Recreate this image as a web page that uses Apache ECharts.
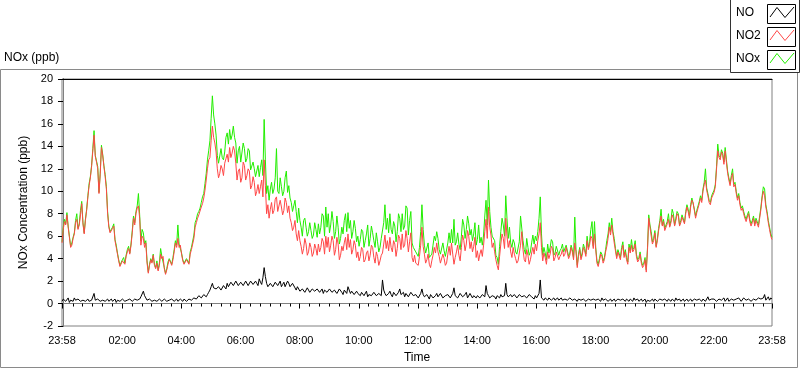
<!DOCTYPE html>
<html>
<head>
<meta charset="utf-8">
<script src="https://cdn.jsdelivr.net/npm/echarts@6/dist/echarts.min.js"></script>
<style>
html,body{margin:0;padding:0;background:#fff;}
#chart{width:800px;height:369px;}
</style>
</head>
<body>
<div id="chart"></div>
<script>
// Sampling: minutes since midnight, first sample at 23:58 (-2), every 2.5 minutes
const sampleStart = -2;
const sampleStep = 2.5;

// NO2 (ppb) - one row per hour
const no2 = [
  5.4,6.6,7.3,7.0,7.9,6.8,5.9,5.0,5.2,5.8,6.2,7.2,7.5,6.6,7.0,7.9,8.9,7.1,6.2,7.4,8.3,9.5,10.5,11.2,
  12.2,13.6,15.0,13.1,12.6,12.0,9.8,11.5,13.9,13.2,12.2,11.3,10.2,8.0,6.8,6.3,6.2,6.7,6.9,5.6,5.0,4.4,3.8,3.3,
  3.4,3.8,3.9,3.5,4.2,4.6,4.9,4.4,5.2,6.3,7.6,7.0,8.0,8.5,8.7,7.6,5.2,6.0,5.8,5.0,5.4,3.6,2.7,3.4,
  3.9,3.6,4.3,3.4,3.1,3.6,2.9,3.4,4.4,4.0,4.2,3.1,2.6,3.0,3.5,3.9,3.7,3.4,3.9,4.6,5.4,5.0,5.8,5.0,
  5.2,4.4,3.8,3.5,3.4,3.9,3.8,3.5,4.4,4.8,4.9,5.8,6.8,7.2,7.6,7.9,8.0,8.6,8.9,9.4,10.1,11.0,12.0,12.8,
  13.0,14.5,15.8,14.8,14.3,13.5,12.0,11.2,11.6,12.3,12.0,11.4,12.5,12.9,13.3,12.6,13.9,13.0,13.4,14.0,13.6,12.5,11.0,11.8,
  12.0,10.8,11.2,12.6,12.3,11.0,11.4,12.0,11.8,10.2,10.5,11.3,10.8,9.6,10.0,10.6,9.8,10.4,11.0,9.5,12.8,10.5,8.0,8.8,
  7.6,8.4,9.0,8.0,8.3,9.3,9.5,8.2,8.1,9.2,8.6,7.9,8.3,9.4,9.0,8.1,8.7,7.6,7.2,6.5,6.8,7.4,6.2,5.6,
  6.5,5.6,5.1,4.4,4.9,5.8,5.3,4.3,4.6,5.4,5.0,4.2,4.5,5.3,4.9,4.3,5.3,4.6,5.0,5.8,5.5,4.4,6.0,5.0,
  5.9,4.6,5.2,6.0,5.6,4.3,4.8,5.9,5.3,3.9,4.3,5.1,4.7,5.4,5.9,4.8,6.2,5.0,5.7,4.4,4.8,5.6,5.2,4.1,
  4.6,3.8,4.2,5.0,4.8,3.7,3.9,4.5,4.7,3.8,4.3,5.2,5.0,4.1,3.6,4.6,4.2,3.4,3.8,4.3,4.5,5.3,6.1,4.9,
  5.6,4.7,5.9,5.0,4.6,5.6,5.3,4.2,4.9,6.1,5.8,4.8,6.2,5.0,5.2,6.5,5.8,4.6,5.5,6.3,4.1,3.7,4.3,3.6,
  3.7,3.4,4.2,5.2,6.8,5.1,4.4,3.6,3.9,4.4,3.5,3.2,3.8,4.3,5.0,4.5,5.4,4.6,4.2,3.6,3.7,4.4,4.0,3.4,
  3.6,4.4,5.1,4.3,5.4,4.4,3.5,4.1,4.6,5.2,4.3,3.8,5.0,6.1,5.6,4.7,5.3,6.5,6.0,4.9,5.5,4.6,5.1,5.9,
  4.1,4.7,3.8,4.4,4.8,4.2,5.2,6.4,7.5,5.8,8.6,6.8,6.1,5.0,5.4,4.6,3.9,3.4,3.0,4.2,5.3,6.2,5.8,4.9,
  7.6,6.0,5.0,5.6,4.6,4.1,5.0,4.4,4.0,3.6,3.8,4.5,5.2,6.4,4.8,3.9,3.7,4.8,4.3,3.5,3.9,4.5,5.0,4.4,
  5.3,4.7,5.6,6.2,7.2,5.0,3.8,4.5,4.1,3.5,4.6,4.0,4.4,5.1,4.9,3.8,4.1,4.6,4.7,3.9,4.2,4.4,4.8,4.2,
  4.4,5.0,4.9,4.0,4.3,5.0,4.6,3.9,5.4,4.6,3.2,4.2,4.8,3.9,4.3,5.0,4.7,4.2,5.6,4.8,5.2,6.0,5.8,4.9,
  6.2,4.8,3.6,3.3,3.8,4.4,4.2,3.6,3.9,4.6,5.1,5.8,6.8,6.1,7.0,6.2,5.4,4.7,4.0,4.6,4.5,3.9,4.7,5.2,
  4.1,4.6,3.9,3.5,5.0,4.5,5.2,4.6,4.8,5.3,4.2,3.7,3.9,4.4,3.6,3.2,3.4,3.9,2.8,4.8,7.6,6.8,6.0,5.3,
  5.6,6.3,5.0,5.6,6.5,7.2,7.8,6.9,7.3,6.5,6.4,7.1,7.5,6.8,7.2,7.9,7.6,6.9,7.4,8.0,7.8,6.9,7.2,7.7,
  7.6,7.1,8.0,8.6,8.2,7.6,8.6,9.2,9.0,8.3,7.6,8.1,8.5,8.9,9.4,9.0,10.0,10.6,11.0,10.1,9.6,9.0,8.8,9.4,
  9.4,9.9,10.4,12.0,13.6,13.0,12.8,13.5,13.2,12.4,13.6,12.6,11.6,11.0,10.5,11.2,11.6,10.4,10.6,9.8,9.2,9.6,8.8,8.3,
  8.5,8.0,7.6,7.3,7.7,8.0,7.3,6.9,7.2,7.6,6.9,7.4,7.1,6.8,7.6,8.4,9.4,10.0,9.6,8.6,8.0,7.2,6.6,6.0,5.7
];

// NOx (ppb)
const nox = [
  5.5,6.8,7.5,7.1,8.1,6.9,6.0,5.1,5.4,5.9,6.3,7.4,8.0,6.7,7.1,8.3,9.1,7.2,6.3,7.5,8.4,9.6,10.7,11.3,
  12.3,13.8,15.4,13.2,12.7,12.2,9.9,11.6,14.1,13.3,12.3,11.5,10.4,8.2,6.9,6.4,6.3,6.8,7.1,5.7,5.2,4.5,3.9,3.4,
  3.5,3.9,4.1,3.6,4.3,4.8,5.1,4.5,5.3,6.5,7.8,7.2,8.2,8.7,9.8,7.9,5.6,6.6,6.3,5.3,5.6,3.8,2.8,3.5,
  4.0,3.7,4.4,3.5,3.2,3.8,3.0,3.6,4.9,4.2,4.3,3.2,2.7,3.1,3.7,4.0,3.9,3.5,4.1,4.8,5.6,5.2,7.0,5.3,
  5.4,4.5,3.9,3.6,3.5,4.0,4.0,3.6,4.6,5.0,5.1,6.1,7.2,7.5,8.0,8.2,8.5,9.0,9.5,9.8,10.7,11.6,12.8,13.6,
  14.5,16.5,18.5,16.8,16.0,15.0,13.2,12.5,12.5,13.8,13.0,12.8,13.5,14.8,15.2,14.2,15.5,14.6,15.0,15.8,14.8,14.3,12.5,13.6,
  14.0,12.6,12.6,14.3,13.8,12.6,12.9,13.8,13.6,11.9,11.8,12.6,12.0,11.3,11.4,12.3,11.3,12.1,12.8,11.4,16.4,12.8,9.8,10.5,
  9.2,10.2,10.8,9.8,10.2,11.2,13.8,10.0,9.8,11.2,10.4,9.6,10.0,11.2,11.8,9.9,10.5,9.4,9.0,8.2,8.7,9.2,8.2,7.2,
  8.5,7.4,6.8,6.0,7.4,7.6,6.8,6.0,6.4,7.2,6.5,5.8,6.1,7.2,6.6,5.9,7.1,6.2,6.8,8.0,7.8,6.0,8.6,6.8,
  8.0,6.3,7.0,8.2,7.3,5.8,6.4,7.8,6.8,5.3,5.8,6.8,6.2,7.4,8.0,6.4,8.1,6.7,7.4,5.8,6.4,7.4,6.7,5.5,
  6.0,5.1,5.7,6.6,6.4,5.0,5.6,6.2,7.0,5.1,5.8,6.9,6.3,5.6,5.0,6.3,5.5,4.6,5.0,5.8,5.7,7.2,8.8,6.6,
  7.6,6.3,8.0,6.6,6.2,7.3,6.9,5.5,6.4,8.0,7.6,6.4,8.0,6.6,6.9,8.7,8.5,6.1,7.4,8.2,5.4,5.0,5.0,4.6,
  4.6,4.2,5.0,6.4,8.8,6.6,5.2,4.5,4.6,5.4,4.1,4.0,4.4,5.2,6.0,5.6,6.4,5.8,4.8,4.4,4.3,5.4,4.7,4.2,
  4.2,5.4,6.3,5.4,6.6,5.4,7.5,5.2,5.5,6.3,5.3,4.8,6.0,7.5,7.0,5.8,6.6,7.8,7.1,6.1,6.6,5.6,6.2,7.2,
  5.2,5.7,7.0,5.4,5.9,5.2,6.1,7.8,9.2,7.0,11.0,8.2,6.8,6.0,6.0,5.6,4.3,4.1,3.5,5.1,6.4,7.6,7.0,6.0,
  9.6,7.6,5.8,6.8,5.4,5.0,5.7,5.4,4.6,4.4,4.4,5.5,7.8,7.8,5.6,4.8,4.4,5.8,5.0,4.3,4.6,5.4,6.1,5.3,
  6.0,5.6,6.4,7.6,9.5,6.2,4.3,5.0,4.5,3.9,5.3,4.5,5.0,5.7,5.5,4.3,4.5,5.1,5.1,4.3,4.7,4.9,5.3,4.6,
  4.6,5.2,5.1,4.2,4.5,5.2,4.8,4.1,7.7,4.8,3.4,4.4,5.0,4.1,4.5,5.3,4.9,4.4,6.0,5.0,5.5,6.6,7.3,5.1,
  7.3,5.0,3.8,3.5,4.0,4.6,4.4,3.8,4.1,4.8,5.6,6.2,7.2,6.4,7.6,6.4,5.8,4.9,4.2,4.8,4.8,4.1,5.0,5.5,
  4.3,4.8,4.1,3.7,5.3,4.7,5.7,4.8,5.0,5.6,4.4,3.9,4.1,4.6,3.8,3.4,3.6,4.1,3.0,5.0,7.9,7.0,6.4,5.5,
  5.8,6.5,5.1,5.8,6.7,7.4,8.4,7.0,7.5,6.7,6.6,7.3,8.0,6.9,7.4,8.4,8.0,7.0,7.6,8.2,8.0,7.0,7.4,7.9,
  7.8,7.2,8.2,8.8,8.4,7.8,8.8,9.4,9.3,8.4,7.8,8.3,8.7,9.1,9.6,9.2,10.2,10.8,12.0,10.3,9.8,9.2,9.0,9.6,
  9.6,10.1,10.6,12.2,14.2,13.2,13.0,13.7,13.4,12.6,13.9,12.8,11.8,11.2,10.7,11.4,12.0,10.6,10.8,10.0,9.4,9.8,9.0,8.5,
  8.7,8.2,7.8,7.5,7.9,8.2,7.5,7.1,7.4,7.8,7.1,7.6,7.3,7.0,7.8,8.6,9.6,10.4,10.2,8.8,8.2,7.4,6.8,6.2,5.9
];

// NO (ppb)
const no = [
  0.2,0.4,0.4,0.2,0.3,0.5,0.1,0.3,0.3,0.2,0.5,0.3,0.2,0.4,0.3,0.2,0.1,0.3,0.4,0.2,0.3,0.4,0.2,0.3,
  0.3,0.4,0.9,0.3,0.2,0.4,0.3,0.2,0.1,0.3,0.4,0.2,0.3,0.4,0.2,0.3,0.4,0.2,0.3,0.4,0.1,0.3,0.3,0.2,
  0.2,0.4,0.4,0.2,0.3,0.3,0.2,0.4,0.4,0.2,0.3,0.4,0.5,0.3,0.3,0.4,0.6,0.5,1.1,0.7,0.5,0.3,0.2,0.4,
  0.3,0.2,0.1,0.3,0.4,0.2,0.2,0.4,0.3,0.2,0.2,0.4,0.4,0.2,0.1,0.3,0.3,0.4,0.5,0.2,0.3,0.4,0.2,0.3,
  0.4,0.3,0.2,0.4,0.3,0.2,0.2,0.4,0.5,0.3,0.4,0.5,0.6,0.4,0.5,0.7,0.7,0.5,0.5,0.8,0.9,0.6,0.8,1.0,
  1.2,1.5,1.8,1.4,1.5,1.3,1.2,1.5,1.4,1.2,1.3,1.6,1.6,1.3,1.8,1.5,1.5,1.9,2.0,1.6,1.7,2.0,1.9,1.6,
  1.6,1.9,2.0,1.6,1.5,2.0,1.9,1.6,1.7,2.0,2.1,1.7,1.6,2.0,1.8,1.6,2.2,1.9,1.7,2.3,3.2,2.4,1.8,1.5,
  1.5,1.8,1.9,1.5,1.6,1.9,2.0,1.6,1.7,2.0,1.5,1.7,1.9,1.5,1.6,2.0,1.8,1.5,1.4,1.8,1.7,1.4,1.2,1.5,
  1.4,1.1,1.0,1.3,1.3,1.0,1.1,1.4,1.2,1.0,0.9,1.3,1.3,1.1,1.0,1.3,1.4,1.0,1.1,1.3,0.9,1.2,1.3,1.0,
  1.1,1.3,1.4,1.0,0.9,1.2,1.3,0.9,1.0,1.3,1.2,1.0,0.8,1.2,1.1,0.9,1.5,1.2,0.9,1.1,1.0,0.8,0.8,1.1,
  0.9,0.8,0.7,1.0,1.0,0.7,0.8,1.1,0.6,0.8,0.9,0.7,0.7,1.0,1.0,0.7,0.6,0.9,0.8,0.7,2.1,1.2,0.9,0.7,
  0.7,0.9,1.1,0.8,0.6,1.0,0.9,0.7,0.7,1.0,1.3,0.8,0.8,1.0,0.6,0.9,1.0,0.6,0.7,1.0,0.9,0.7,0.6,0.8,
  0.7,0.5,0.5,0.9,1.3,0.8,0.6,0.5,0.8,0.6,0.4,0.8,0.7,0.5,0.5,0.7,0.9,0.6,0.6,0.9,0.8,0.5,0.4,0.7,
  0.6,0.8,0.8,0.5,0.5,0.9,1.4,0.7,0.6,0.5,0.7,0.9,0.9,0.6,0.5,0.8,1.0,0.5,0.6,0.9,0.8,0.5,0.7,0.6,
  0.5,0.7,0.8,0.5,0.6,0.8,0.9,0.6,1.6,0.9,0.7,0.5,0.5,0.7,0.8,0.6,0.4,0.7,0.6,0.5,0.8,0.6,0.5,0.7,
  1.8,0.8,0.6,0.5,0.8,0.6,0.5,0.8,0.7,0.5,0.6,0.8,0.9,0.6,0.5,0.7,0.8,0.5,0.6,0.8,0.7,0.6,0.5,0.4,
  0.7,0.5,0.6,0.9,2.1,0.5,0.4,0.3,0.5,0.4,0.3,0.5,0.5,0.3,0.4,0.5,0.3,0.4,0.5,0.3,0.4,0.5,0.3,0.4,
  0.4,0.5,0.3,0.3,0.5,0.4,0.3,0.2,0.4,0.5,0.2,0.4,0.5,0.3,0.3,0.4,0.4,0.2,0.3,0.4,0.5,0.3,0.3,0.4,
  0.4,0.3,0.2,0.4,0.3,0.2,0.5,0.3,0.2,0.4,0.4,0.2,0.3,0.4,0.2,0.3,0.4,0.2,0.3,0.4,0.5,0.3,0.2,0.4,
  0.3,0.2,0.4,0.3,0.2,0.4,0.3,0.2,0.5,0.3,0.3,0.4,0.2,0.3,0.4,0.2,0.3,0.4,0.1,0.3,0.4,0.2,0.3,0.4,
  0.2,0.4,0.4,0.2,0.3,0.4,0.5,0.3,0.2,0.4,0.3,0.2,0.4,0.3,0.2,0.4,0.3,0.2,0.5,0.3,0.3,0.4,0.2,0.3,
  0.4,0.2,0.3,0.4,0.2,0.3,0.4,0.2,0.3,0.4,0.5,0.3,0.2,0.4,0.3,0.2,0.4,0.3,0.2,0.4,0.6,0.3,0.3,0.4,
  0.3,0.4,0.5,0.2,0.2,0.4,0.4,0.3,0.3,0.5,0.2,0.3,0.5,0.2,0.3,0.4,0.4,0.3,0.2,0.4,0.3,0.5,0.5,0.2,
  0.3,0.5,0.4,0.3,0.2,0.4,0.5,0.2,0.3,0.4,0.4,0.3,0.2,0.5,0.6,0.4,0.3,0.5,0.8,0.3,0.4,0.6,0.3,0.5,0.4
];

// Axis ticks (minutes since midnight) and their labels
const timeTickValues = [-2, 120, 240, 360, 480, 600, 720, 840, 960, 1080, 1200, 1320, 1438];
const timeTickLabels = ['23:58', '02:00', '04:00', '06:00', '08:00', '10:00', '12:00', '14:00', '16:00', '18:00', '20:00', '22:00', '23:58'];
const minorTickValues = [];
for (let m = 20; m < 1438; m += 20) { if (m % 120 !== 0) minorTickValues.push(m); }

const seriesNames = ['NO', 'NO2', 'NOx'];
const seriesColors = ['#000000', '#ff4747', '#22ee00'];

const toPairs = arr => arr.map((v, i) => [sampleStart + i * sampleStep, v]);

const FONT = 'Liberation Sans, Arial, sans-serif';
const chart = echarts.init(document.getElementById('chart'), null, {renderer: 'canvas'});

// legend swatches (small boxes with a zigzag line)
const legendGraphics = [];
seriesNames.forEach((name, k) => {
  const by = 4 + k * 23;
  legendGraphics.push({
    type: 'text', left: 736, top: by + 3,
    style: {text: name, font: '12px ' + FONT, fill: '#000'}
  });
  legendGraphics.push({
    type: 'rect', shape: {x: 767.5, y: by + 0.5, width: 28, height: 19},
    style: {fill: '#fff', stroke: '#000', lineWidth: 1}
  });
  legendGraphics.push({
    type: 'polyline',
    shape: {points: [[770, by + 13], [777, by + 3.5], [785, by + 13.5], [794, by + 3]]},
    style: {stroke: seriesColors[k], lineWidth: 1, fill: null}
  });
});

const option = {
  animation: false,
  backgroundColor: '#fff',
  textStyle: {fontFamily: FONT},
  grid: {left: 62, right: 28, top: 79, bottom: 40, show: true, borderColor: '#808080', borderWidth: 1, backgroundColor: '#fff'},
  graphic: [
    {type: 'rect', z: -10, shape: {x: 0.5, y: 69.5, width: 797, height: 298}, style: {fill: 'none', stroke: '#8a8a8a', lineWidth: 1}},
    {type: 'text', left: 4, top: 52, style: {text: 'NOx (ppb)', font: '12px ' + FONT, fill: '#000'}},
    {type: 'rect', z: 5, shape: {x: 730.5, y: -1, width: 69, height: 73.5}, style: {fill: '#fff', stroke: '#333', lineWidth: 1}},
    ...legendGraphics.map(g => Object.assign({z: 6}, g))
  ],
  xAxis: [
    {
      type: 'value', min: -2, max: 1438, position: 'bottom',
      axisLine: {show: true, lineStyle: {color: '#808080', width: 1}},
      axisTick: {show: true, customValues: timeTickValues, length: 5, inside: false, lineStyle: {color: '#000'}},
      axisLabel: {
        customValues: timeTickValues, color: '#000', fontSize: 11, margin: 9, fontFamily: FONT,
        formatter: v => { const i = timeTickValues.indexOf(v); return i >= 0 ? timeTickLabels[i] : ''; }
      },
      splitLine: {show: false},
      name: 'Time', nameLocation: 'middle', nameGap: 26,
      nameTextStyle: {color: '#000', fontSize: 12, fontFamily: FONT}
    },
    {
      type: 'value', min: -2, max: 1438, position: 'bottom',
      axisLine: {show: false},
      axisTick: {show: true, customValues: minorTickValues, length: 3, lineStyle: {color: '#000'}},
      axisLabel: {show: false}, splitLine: {show: false}
    },
    {
      type: 'value', min: -2, max: 1438, position: 'top',
      axisLine: {show: true, lineStyle: {color: '#000', width: 1}},
      axisTick: {show: false}, axisLabel: {show: false}, splitLine: {show: false}
    }
  ],
  yAxis: [
    {
      type: 'value', min: -2, max: 20, interval: 2, position: 'left',
      axisLine: {show: true, lineStyle: {color: '#000', width: 1}},
      axisTick: {show: true, length: 5, lineStyle: {color: '#000'}},
      axisLabel: {color: '#000', fontSize: 11, margin: 9, fontFamily: FONT},
      splitLine: {show: false},
      name: 'NOx Concentration (ppb)', nameLocation: 'middle', nameGap: 24, nameRotate: 90,
      nameTextStyle: {color: '#000', fontSize: 12, fontFamily: FONT}
    },
    {
      type: 'value', min: -2, max: 20, interval: 2, position: 'right',
      axisLine: {show: true, lineStyle: {color: '#808080', width: 1}},
      axisTick: {show: false}, axisLabel: {show: false}, splitLine: {show: false}
    }
  ],
  series: [
    {name: 'NOx', type: 'line', data: toPairs(nox), showSymbol: false, lineStyle: {color: seriesColors[2], width: 1}, itemStyle: {color: seriesColors[2]}, z: 2},
    {name: 'NO2', type: 'line', data: toPairs(no2), showSymbol: false, lineStyle: {color: seriesColors[1], width: 1}, itemStyle: {color: seriesColors[1]}, z: 3},
    {name: 'NO', type: 'line', data: toPairs(no), showSymbol: false, lineStyle: {color: seriesColors[0], width: 1}, itemStyle: {color: seriesColors[0]}, z: 4}
  ]
};
chart.setOption(option);
</script>
</body>
</html>
